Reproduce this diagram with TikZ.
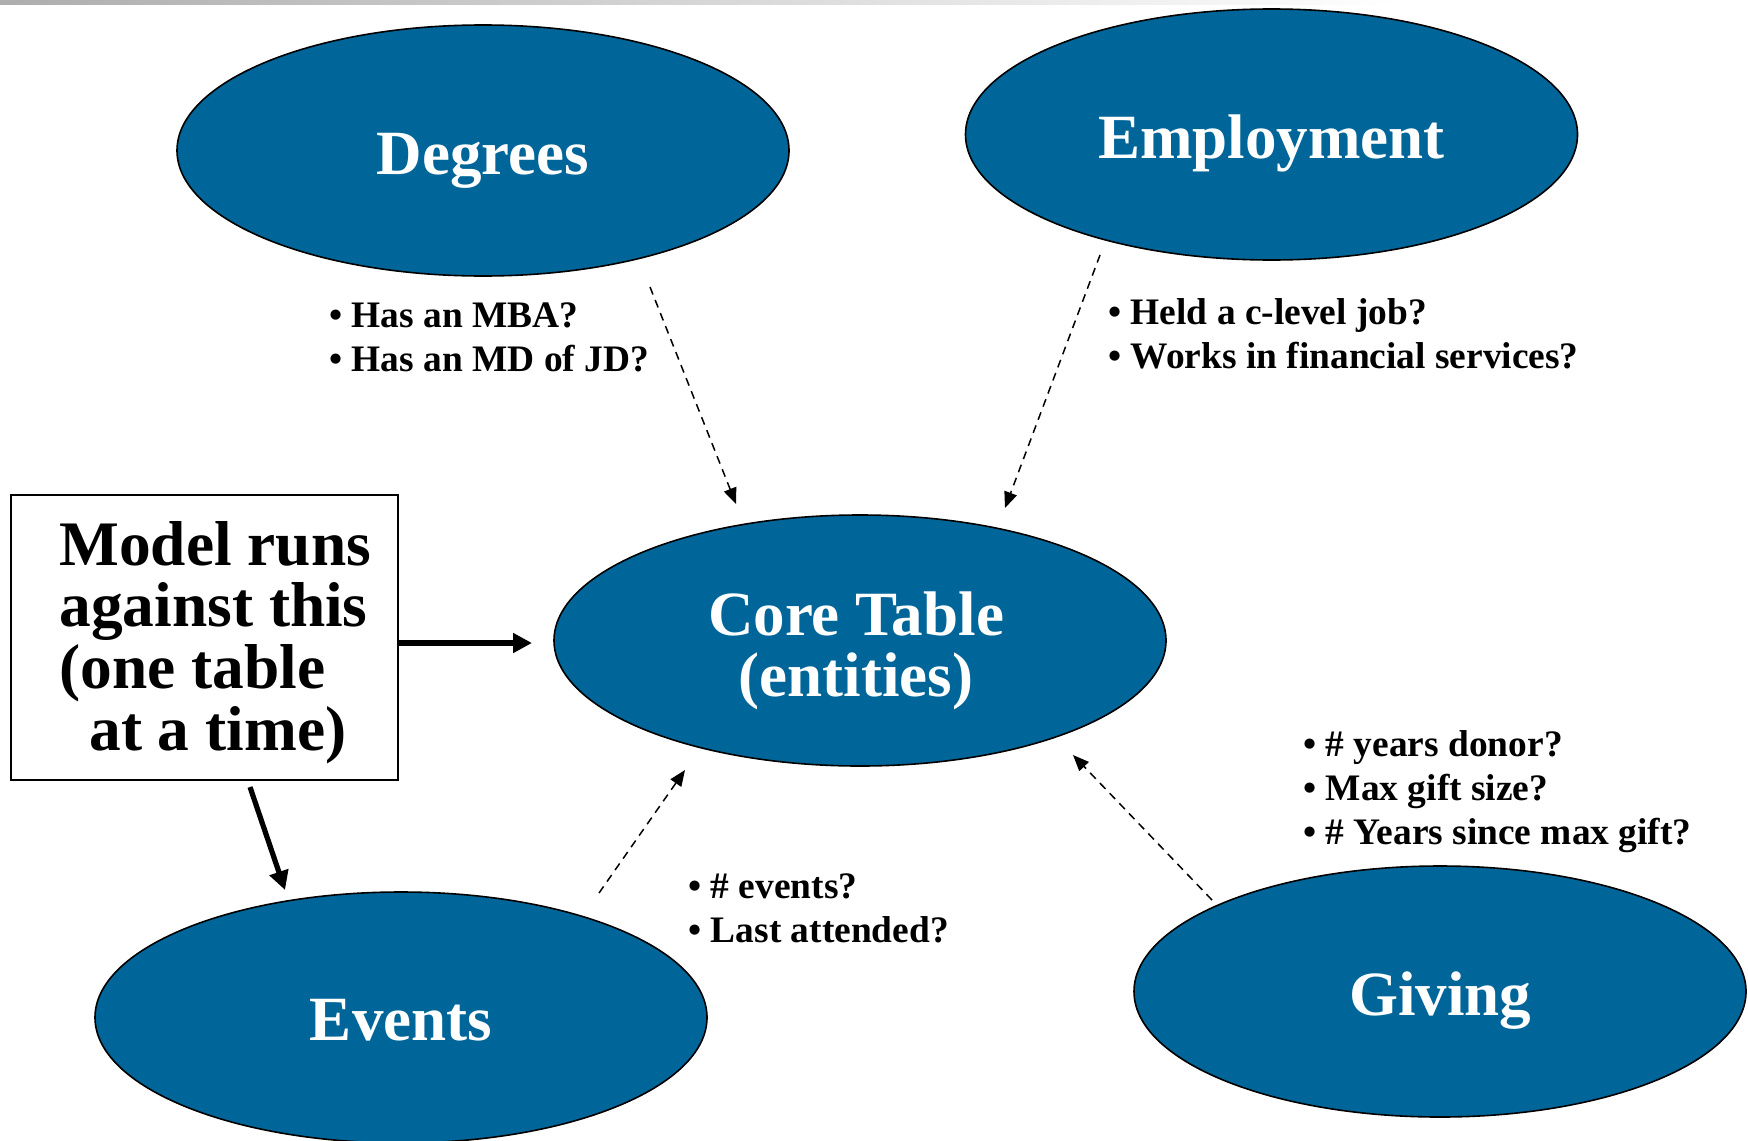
\documentclass[tikz,border=0pt]{standalone}
\usepackage{fontspec}
\setmainfont{Liberation Serif}
\usetikzlibrary{arrows.meta,shapes.geometric}
\definecolor{nodeblue}{HTML}{006699}
\begin{document}
\begin{tikzpicture}[x=0.5pt,y=-0.5pt,
  blob/.style={ellipse, draw=black, line width=0.8pt, fill=nodeblue,
    minimum width=306pt, minimum height=125.5pt, inner sep=0pt},
  title/.style={text=white, font=\fontsize{31.5}{29}\selectfont\bfseries,
    inner sep=0pt, anchor=base},
  bullets/.style={font=\fontsize{18.7}{22}\selectfont\bfseries,
    inner sep=0pt, anchor=base west},
  dasharrow/.style={line width=0.75pt, dash pattern=on 4pt off 3pt,
    -{Triangle[length=8pt,width=6.5pt]}},
  thickarrow/.style={line width=2.6pt, -{Triangle[length=9.5pt,width=9.5pt]}},
]
\clip (0,0) rectangle (1748,1140);
\fill[white] (0,0) rectangle (1748,1140);
\shade[left color=black!32, right color=white] (0,0) rectangle (1400,4);

% ellipses
\node[blob] (deg)  at (483,150.5)  {};
\node[blob] (emp)  at (1271.5,134.5) {};
\node[blob] (core) at (860,640.5)  {};
\node[blob] (ev)   at (401,1017.5) {};
\node[blob] (giv)  at (1440,991.5) {};

\node[title] (degT)  at ([yshift=-12pt]deg.center)  {Degrees};
\node[title] (empT)  at ([yshift=-12pt]emp.center)  {Employment};
\node[title] (coreT) at ([xshift=-2pt,yshift=2.75pt]core.center)
  {\begin{tabular}[t]{@{}c@{}}Core Table\\(entities)\end{tabular}};
\node[title] (evT)   at ([yshift=-11.5pt]ev.center) {Events};
\node[title] (givT)  at ([yshift=-11.75pt]giv.center) {Giving};

% box
\node[draw=black, line width=1pt, minimum width=193.5pt, minimum height=142.5pt,
  inner sep=0pt] (box) at (204.5,637.5) {};
\node[anchor=base west, inner sep=0pt, font=\fontsize{31.7}{30}\selectfont\bfseries]
  (boxT) at (59,565)
  {\begin{tabular}[t]{@{}l@{}}Model runs\\against this\\(one table\\\hspace{15pt}at a time)\end{tabular}};

% bullet lists
\node[bullets] (degB) at (329,327)
  {\begin{tabular}[t]{@{}l@{}}• Has an MBA?\\• Has an MD of JD?\end{tabular}};
\node[bullets] (empB) at (1108,324)
  {\begin{tabular}[t]{@{}l@{}}• Held a c-level job?\\• Works in financial services?\end{tabular}};
\node[bullets] (evB) at (688,898)
  {\begin{tabular}[t]{@{}l@{}}• \# events?\\• Last attended?\end{tabular}};
\node[bullets] (givB) at (1303,756)
  {\begin{tabular}[t]{@{}l@{}}• \# years donor?\\• Max gift size?\\• \# Years since max gift?\end{tabular}};

% dashed connectors
\coordinate (a1s) at (650,287);  \coordinate (a1e) at (736,504);
\coordinate (a2s) at (1100,255); \coordinate (a2e) at (1005,508);
\coordinate (a3s) at (599,893);  \coordinate (a3e) at (685,770);
\coordinate (a4s) at (1212,900); \coordinate (a4e) at (1073,755);
\draw[dasharrow] (a1s) -- (a1e);
\draw[dasharrow] (a2s) -- (a2e);
\draw[dasharrow] (a3s) -- (a3e);
\draw[dasharrow] (a4s) -- (a4e);

% thick arrows from box
\coordinate (r1e) at (532,643);
\coordinate (r2e) at (285,890);
\draw[thickarrow] (box.east |- r1e) -- (r1e);
\draw[thickarrow] ([xshift=22.75pt,yshift=-3pt]box.south) -- (r2e);
\end{tikzpicture}
\end{document}
